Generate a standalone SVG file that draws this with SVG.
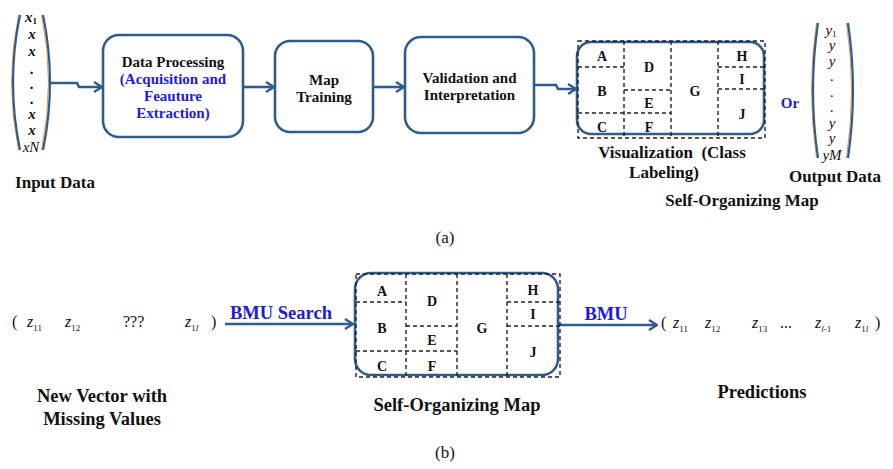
<svg xmlns="http://www.w3.org/2000/svg" width="893" height="469" viewBox="0 0 893 469">
<style>
text{font-family:'Liberation Serif','DejaVu Serif','Times New Roman',serif}
.t{font-weight:bold;fill:#111;text-anchor:middle}
.b{fill:#1A1AE6}
.box{fill:#fff;stroke:#2F5C8F;stroke-width:2.6}
.dash{fill:none;stroke:#222;stroke-width:1.4;stroke-dasharray:4,3}
.con{fill:none;stroke:#2F5C8F;stroke-width:2.6}
.par{fill:none;stroke:#2F5C8F;stroke-width:2.2}
.paro{fill:none;stroke:#E08A2C;stroke-width:0.9}
.v{font-style:italic;fill:#111;text-anchor:middle;font-size:15px}
.z{font-style:italic;fill:#111;font-size:16px}
.n{fill:#111;font-size:16px}
.s{font-size:9px;font-style:normal}
.L{font-size:14px}
</style>
<defs>
<marker id="ah" viewBox="0 0 10 12" refX="9" refY="6" markerWidth="10" markerHeight="12" markerUnits="userSpaceOnUse" orient="auto">
<path d="M1,1 L9,6 L1,11" fill="none" stroke="#2F5C8F" stroke-width="2.4"/>
</marker>
</defs>

<g id="connectors">
<path class="con" d="M50 83 H77 L79 87 H102" marker-end="url(#ah)"/>
<path class="con" d="M243 87 H274" marker-end="url(#ah)"/>
<path class="con" d="M373 87 H404" marker-end="url(#ah)"/>
<path class="con" d="M534 85 H556 L558 89 H576" marker-end="url(#ah)"/>
<path class="con" d="M225 324 H353" marker-end="url(#ah)"/>
<path class="con" d="M557 325 H657" marker-end="url(#ah)"/>
</g>

<g id="input-data">
<path class="paro" d="M18.5 15 Q4.5 82 18.5 150"/>
<path class="par" d="M20 15 Q6 82 20 150"/>
<path class="paro" d="M41.5 15 Q55.5 82 41.5 150"/>
<path class="par" d="M43 15 Q57 82 43 150"/>
<text class="v" font-weight="bold" x="31" y="22">x<tspan class="s" dy="2">1</tspan></text>
<text class="v" font-weight="bold" x="32" y="39">x</text>
<text class="v" font-weight="bold" x="32" y="56">x</text>
<text class="v" font-weight="bold" x="32" y="74">.</text>
<text class="v" font-weight="bold" x="32" y="89">.</text>
<text class="v" font-weight="bold" x="32" y="104">.</text>
<text class="v" font-weight="bold" x="32" y="119">x</text>
<text class="v" font-weight="bold" x="32" y="135">x</text>
<text class="v" x="31" y="152">xN</text>
<text class="t" x="55" y="188" font-size="17">Input Data</text>
</g>

<g id="data-processing">
<rect class="box" x="103" y="35" width="140" height="102" rx="16"/>
<text class="t" x="173" y="67" font-size="15">Data Processing</text>
<text class="t b" x="173" y="84" font-size="15">(Acquisition and</text>
<text class="t b" x="173" y="101" font-size="15">Feauture</text>
<text class="t b" x="173" y="118" font-size="15">Extraction)</text>
</g>

<g id="map-training">
<rect class="box" x="275" y="41" width="98" height="91" rx="15"/>
<text class="t" x="324" y="85" font-size="15">Map</text>
<text class="t" x="324" y="102" font-size="15">Training</text>
</g>

<g id="validation">
<rect class="box" x="405" y="37" width="129" height="96" rx="16"/>
<text class="t" x="469.5" y="83" font-size="15">Validation and</text>
<text class="t" x="469.5" y="100" font-size="15">Interpretation</text>
</g>

<g id="som-top">
<rect class="box" x="577" y="42" width="187" height="92" rx="14"/>
<rect class="dash" x="578" y="41" width="187" height="97"/>
<path class="dash" d="M624 41 V138 M671 41 V138 M718 41 V138 M578 67 H624 M578 113 H671 M624 90 H671 M718 67 H765 M718 89 H765"/>
<text class="t L" x="602" y="61">A</text>
<text class="t L" x="602" y="96">B</text>
<text class="t L" x="602" y="132">C</text>
<text class="t L" x="649" y="72">D</text>
<text class="t L" x="649" y="108">E</text>
<text class="t L" x="649" y="132">F</text>
<text class="t L" x="695" y="96">G</text>
<text class="t L" x="742" y="61">H</text>
<text class="t L" x="742" y="84">I</text>
<text class="t L" x="742" y="119">J</text>
<text class="t" x="672" y="158" font-size="17" xml:space="preserve">Visualization  (Class</text>
<text class="t" x="664" y="178" font-size="17">Labeling)</text>
<text class="t" x="742" y="206" font-size="17">Self-Organizing Map</text>
</g>

<g id="output-data">
<text class="t b" x="790" y="108" font-size="15">Or</text>
<path class="paro" d="M816.5 23 Q806.5 90 816.5 158"/>
<path class="par" d="M818 23 Q808 90 818 158"/>
<path class="paro" d="M846.5 23 Q856.5 90 846.5 158"/>
<path class="par" d="M848 23 Q858 90 848 158"/>
<text class="v" x="831" y="35">y<tspan class="s" dy="2">1</tspan></text>
<text class="v" x="832" y="50">y</text>
<text class="v" x="832" y="66">y</text>
<text class="v" x="832" y="81">.</text>
<text class="v" x="832" y="97">.</text>
<text class="v" x="832" y="112">.</text>
<text class="v" x="832" y="128">y</text>
<text class="v" x="832" y="143">y</text>
<text class="v" x="832" y="160">yM</text>
<text class="t" x="835" y="182" font-size="17">Output Data</text>
</g>

<text x="445" y="243" font-size="17" text-anchor="middle" fill="#111">(a)</text>

<g id="new-vector">
<text class="n" x="12" y="327">(</text>
<text class="z" x="27" y="327">z<tspan class="s" dy="4">11</tspan></text>
<text class="z" x="65" y="327">z<tspan class="s" dy="4">12</tspan></text>
<text class="n" x="123" y="327" font-size="15">???</text>
<text class="z" x="185" y="327">z<tspan class="s" dy="4">1<tspan font-style="italic">l</tspan></tspan></text>
<text class="n" x="211" y="327">)</text>
<text class="t" x="102" y="402" font-size="18.5">New Vector with</text>
<text class="t" x="102" y="425" font-size="18.5">Missing Values</text>
</g>

<text class="t b" x="281" y="319" font-size="18.5">BMU Search</text>

<g id="som-bottom">
<rect class="box" x="355" y="273" width="203" height="102" rx="16"/>
<rect class="dash" x="356" y="274" width="204" height="103"/>
<path class="dash" d="M406 274 V377 M457 274 V377 M507 274 V377 M356 302 H406 M356 351 H457 M406 326 H457 M507 302 H560 M507 326 H560"/>
<text class="t L" x="382" y="296">A</text>
<text class="t L" x="382" y="333">B</text>
<text class="t L" x="382" y="371">C</text>
<text class="t L" x="432" y="306">D</text>
<text class="t L" x="432" y="345">E</text>
<text class="t L" x="432" y="371">F</text>
<text class="t L" x="482" y="333">G</text>
<text class="t L" x="533" y="295">H</text>
<text class="t L" x="533" y="319">I</text>
<text class="t L" x="533" y="357">J</text>
<text class="t" x="457" y="411" font-size="18.5">Self-Organizing Map</text>
</g>

<text class="t b" x="606" y="320" font-size="18.5">BMU</text>

<g id="predictions">
<text class="n" x="661" y="328">(</text>
<text class="z" x="673" y="328">z<tspan class="s" dy="4">11</tspan></text>
<text class="z" x="705" y="328">z<tspan class="s" dy="4">12</tspan></text>
<text class="z" x="752" y="328">z<tspan class="s" dy="4">13</tspan></text>
<text class="n" x="780" y="328" font-size="15">...</text>
<text class="z" x="815" y="328">z<tspan class="s" dy="4"><tspan font-style="italic">l</tspan>-1</tspan></text>
<text class="z" x="855" y="328">z<tspan class="s" dy="4">1<tspan font-style="italic">l</tspan></tspan></text>
<text class="n" x="875" y="328">)</text>
<text class="t" x="762" y="398" font-size="18.5">Predictions</text>
</g>

<text x="445" y="458" font-size="17" text-anchor="middle" fill="#111">(b)</text>
</svg>
